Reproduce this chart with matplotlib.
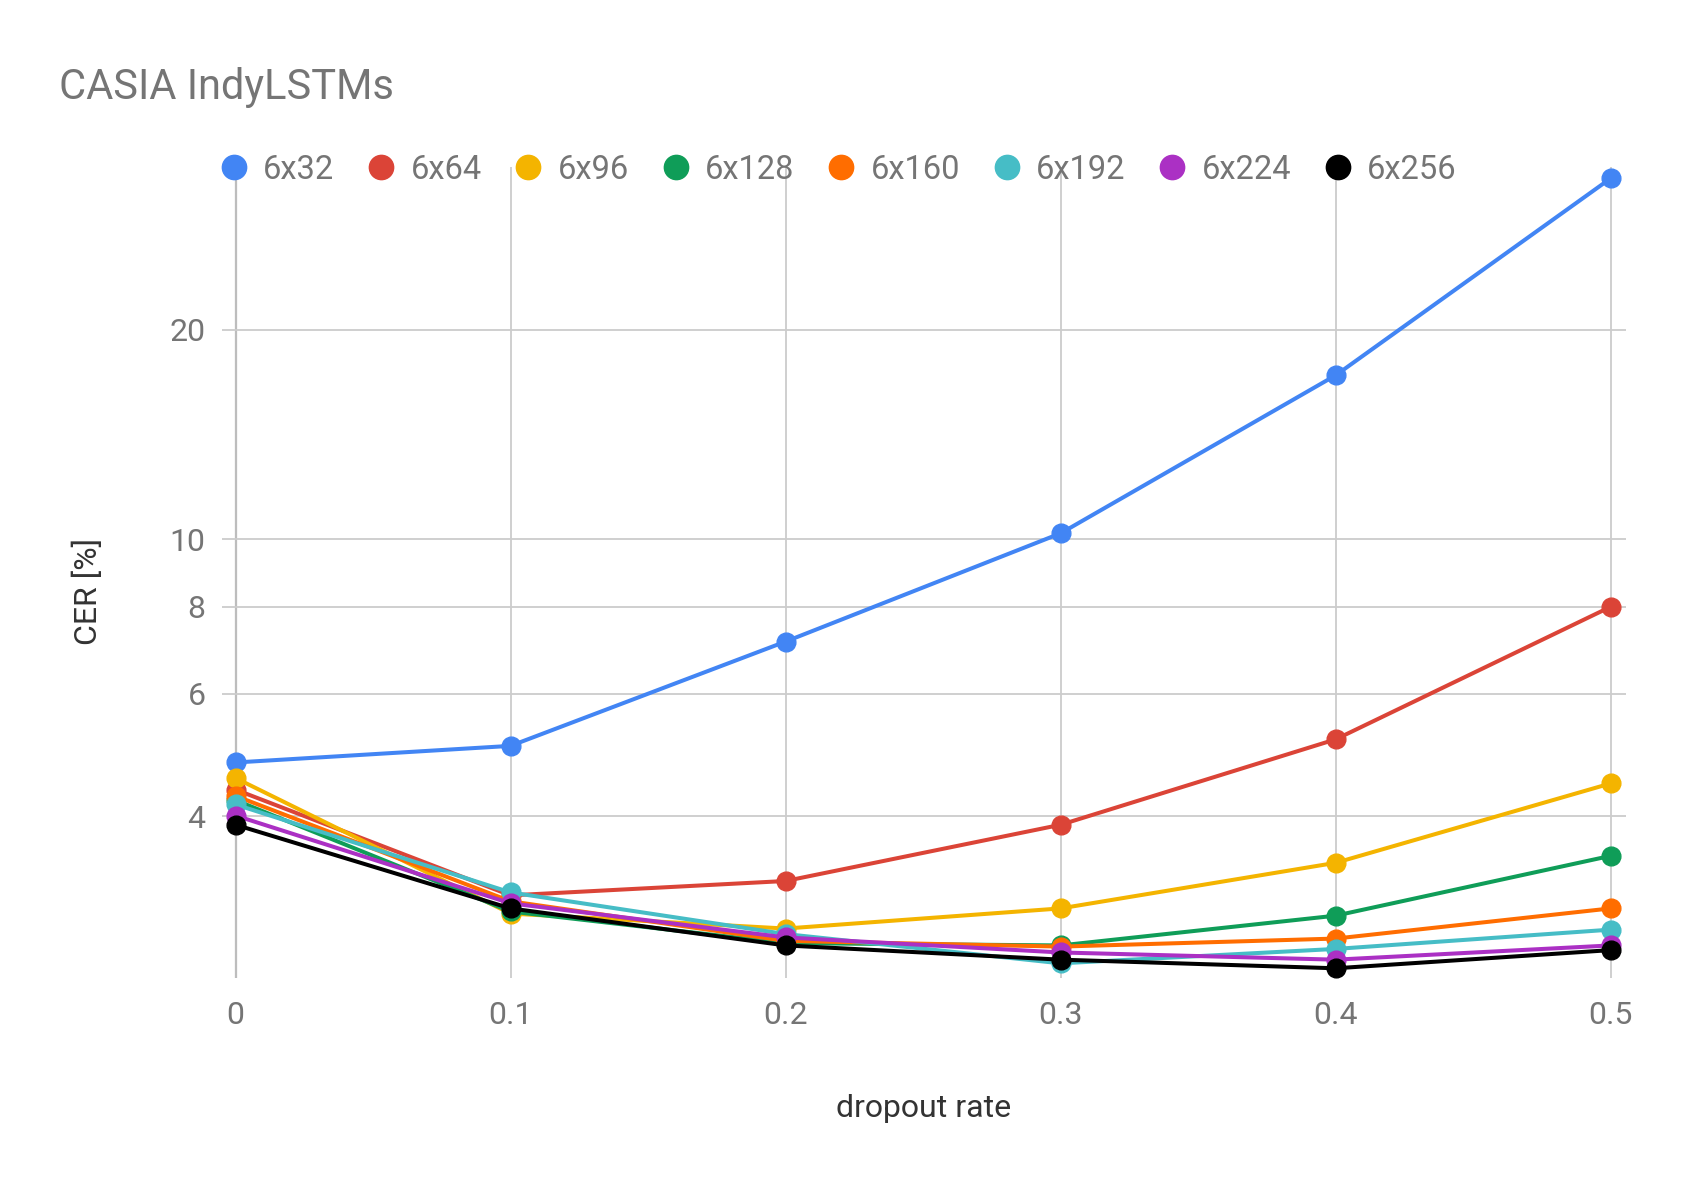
import matplotlib.pyplot as plt
from matplotlib.lines import Line2D
from matplotlib.ticker import FixedLocator, NullLocator

# 数据
dropout = [0, 0.1, 0.2, 0.3, 0.4, 0.5]
labels = ['6x32', '6x64', '6x96', '6x128', '6x160', '6x192', '6x224', '6x256']
colors = ['#4285f4', '#db4437', '#f4b400', '#0f9d58', '#ff6d00', '#46bdc6', '#ab30c4', '#000000']

cer_6x32 = [4.78, 5.05, 7.13, 10.2, 17.2, 33.0]
cer_6x64 = [4.37, 3.08, 3.23, 3.89, 5.16, 8.0]
cer_6x96 = [4.54, 2.90, 2.76, 2.95, 3.43, 4.46]
cer_6x128 = [4.22, 2.92, 2.63, 2.61, 2.88, 3.51]
cer_6x160 = [4.28, 3.02, 2.65, 2.60, 2.67, 2.95]
cer_6x192 = [4.16, 3.11, 2.71, 2.46, 2.58, 2.75]
cer_6x224 = [4.01, 3.00, 2.68, 2.55, 2.49, 2.61]
cer_6x256 = [3.89, 2.95, 2.61, 2.49, 2.42, 2.57]
series = [cer_6x32, cer_6x64, cer_6x96, cer_6x128, cer_6x160, cer_6x192, cer_6x224, cer_6x256]

y_ticks = [4, 6, 8, 10, 20]

plt.rcParams['font.family'] = ['Roboto', 'DejaVu Sans']

fig = plt.figure(figsize=(16.86, 11.86), dpi=100)
ax = fig.add_axes([0.1317, 0.175, 0.8326, 0.6845])

for s, lab, c in zip(series, labels, colors):
    ax.plot(dropout, s, color=c, lw=2.9, marker='o', ms=13.5, label=lab, zorder=3)

ax.set_yscale('log')
ax.set_ylim(2.34, 34.3)
ax.set_xlim(-0.0049, 0.5055)
ax.yaxis.set_major_locator(FixedLocator(y_ticks))
ax.yaxis.set_minor_locator(NullLocator())
ax.set_yticklabels([str(t) for t in y_ticks])
ax.set_xticks(dropout)
ax.set_xticklabels(['0', '0.1', '0.2', '0.3', '0.4', '0.5'])

ax.grid(True, color='#cccccc', lw=1.3, zorder=0)
ax.axvline(0, color='#333333', lw=1.5, zorder=1)
for sp in ax.spines.values():
    sp.set_visible(False)
ax.tick_params(length=0, labelsize=23, colors='#757575')
ax.tick_params(axis='x', pad=16)
ax.tick_params(axis='y', pad=12)

ax.set_xlabel('dropout rate', fontsize=23, color='#333333', labelpad=46)
ax.set_ylabel('CER [%]', fontsize=23, color='#333333', labelpad=48)
ax.yaxis.label.set_y(0.477)

fig.text(0.035, 0.926, 'CASIA IndyLSTMs', fontsize=30, color='#757575', va='center')

handles = [Line2D([], [], ls='none', marker='o', ms=17.5, color=c) for c in colors]
leg = ax.legend(handles, labels, ncol=8, frameon=False, loc='center left',
                bbox_to_anchor=(0.131, 0.857), bbox_transform=fig.transFigure,
                fontsize=23.5, handlelength=0.8, handletextpad=0.5, columnspacing=1.03,
                borderaxespad=0, borderpad=0)
for t in leg.get_texts():
    t.set_color('#757575')

fig.savefig('out.png', dpi=100, facecolor='white')
